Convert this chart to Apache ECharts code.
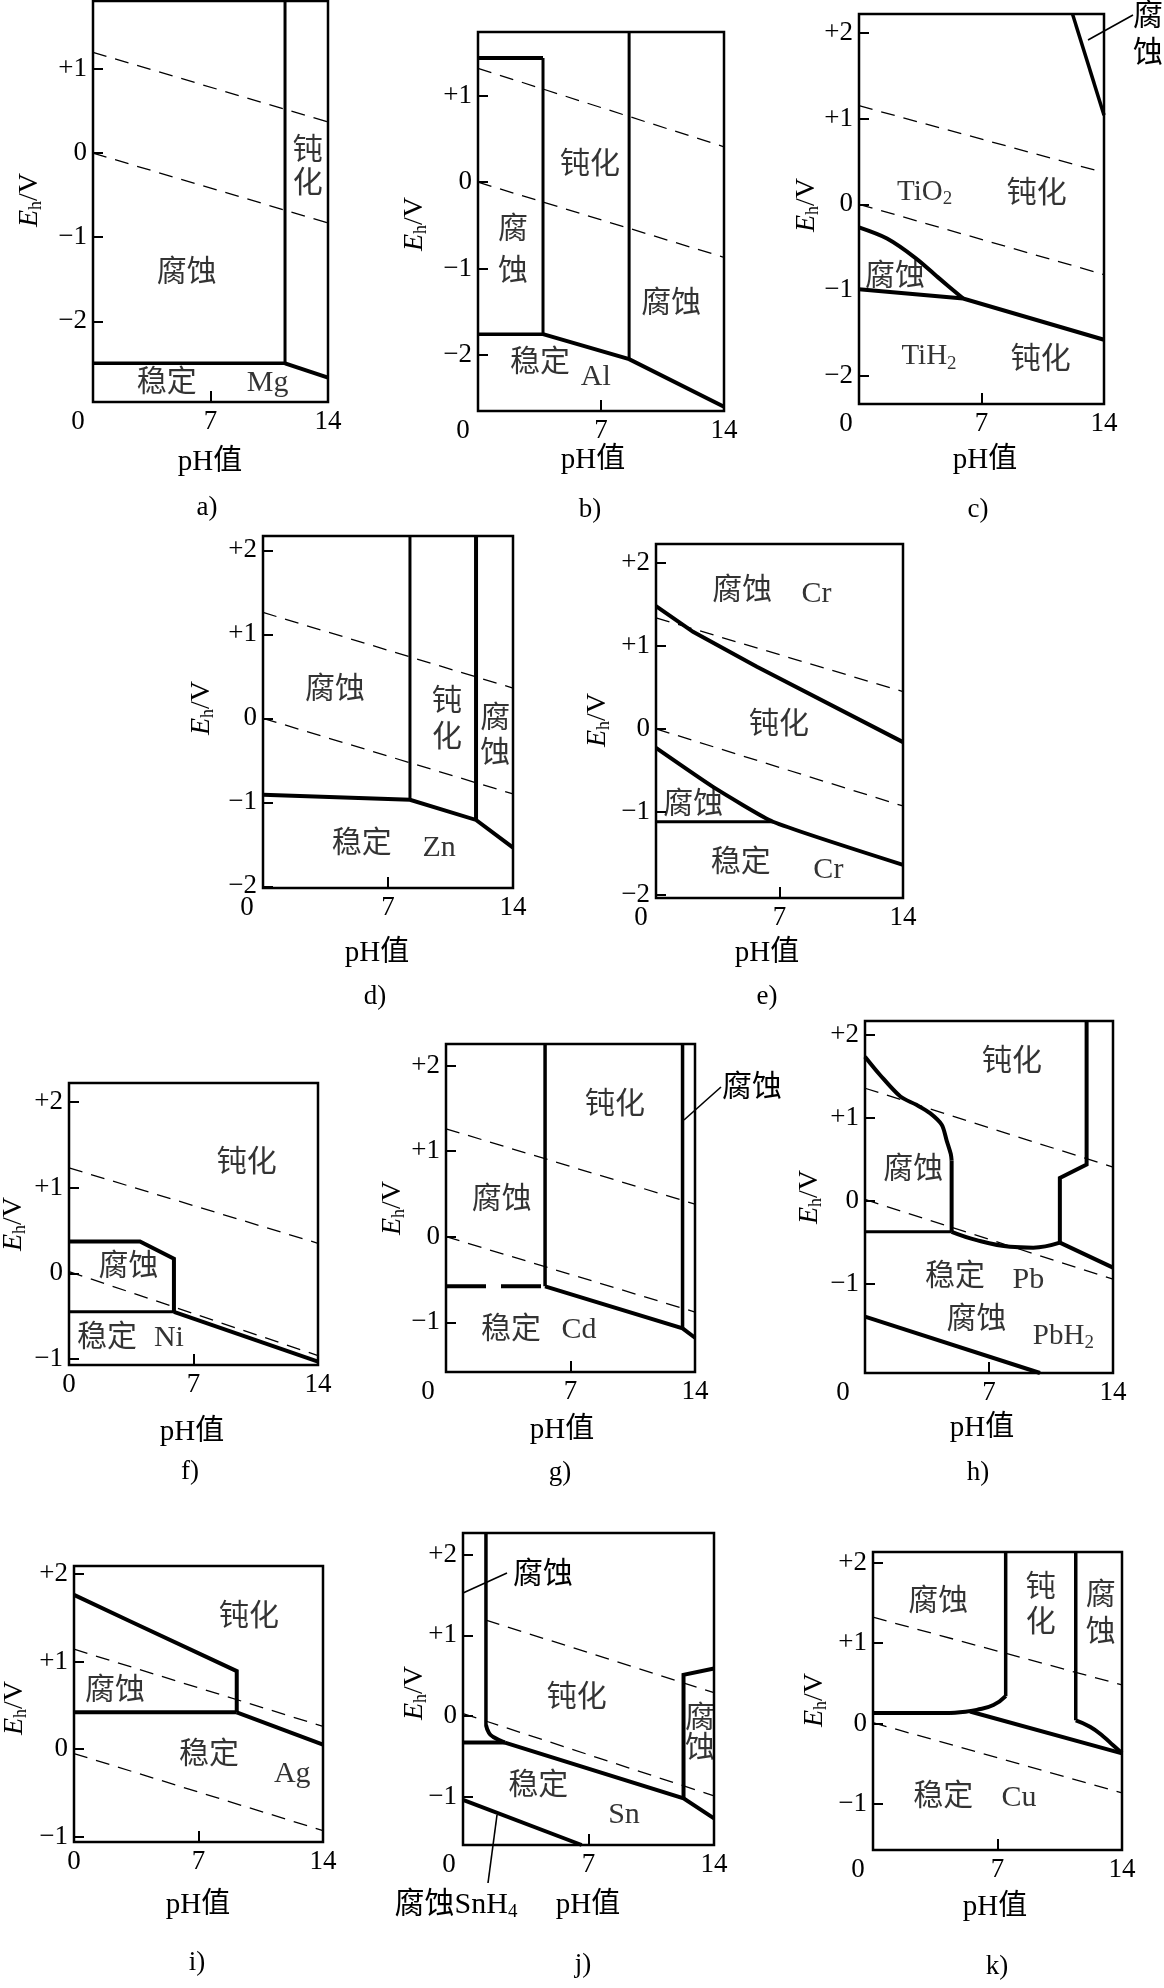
<!DOCTYPE html>
<html>
<head>
<meta charset="utf-8">
<script src="https://cdn.jsdelivr.net/npm/echarts@6/dist/echarts.min.js"></script>
<style>
  html, body { margin: 0; padding: 0; background: #fff; }
  #main { width: 1164px; height: 1988px; }
</style>
</head>
<body>
<div id="main"></div>
<script>
// pH 轴刻度
const phTicks = [0, 7, 14];

// 水的稳定线 (上: O2, 下: H2), 每个小图按图上读数
const aWater = [[[0, 1.20], [14, 0.37]], [[0, 0], [14, -0.83]]];
const bWater = [[[0, 1.32], [14, 0.41]], [[0, 0], [14, -0.87]]];
const cWater = [[[0, 1.15], [14, 0.37]], [[0, 0], [14, -0.82]]];
const dWater = [[[0, 1.26], [14, 0.36]], [[0, 0], [14, -0.90]]];
const eWater = [[[0, 1.34], [14, 0.45]], [[0, 0], [14, -0.93]]];
const fWater = [[[0, 1.23], [14, 0.35]], [[0, 0.02], [14, -0.96]]];
const gWater = [[[0, 1.26], [14, 0.38]], [[0, 0], [14, -0.88]]];
const hWater = [[[0, 1.36], [14, 0.41]], [[0, 0.02], [14, -0.94]]];
const iWater = [[[0, 1.14], [14, 0.26]], [[0, -0.05], [14, -0.93]]];
const jWater = [[[1.28, 1.19], [14, 0.29]], [[0, 0.03], [14, -0.99]]];
const kWater = [[[0, 1.32], [14, 0.48]], [[0, 0.01], [14, -0.86]]];

// a) Mg
const aPassiveEdge = [[11.44, 1.81], [11.44, -2.5]];
const aImmunityEdge = [[0, -2.5], [11.44, -2.5]];
const aAlkalineEdge = [[11.44, -2.5], [14, -2.67]];
const aNotes = [['钝\n化', 12.8, -0.17, 33], ['腐蚀', 5.58, -1.43], ['稳定', 4.39, -2.74], ['Mg', 10.4, -2.73]];

// b) Al
const bAcidCap = [[0, 1.44], [3.7, 1.44]];
const bAcidWall = [[3.7, 1.44], [3.7, -1.76]];
const bAcidFloor = [[0, -1.76], [3.7, -1.76]];
const bAlkWall = [[8.6, 1.74], [8.6, -2.05]];
const bMetalEdge = [[3.7, -1.76], [8.6, -2.05], [14, -2.6]];
const bNotes = [['钝化', 6.37, 0.2], ['腐\n蚀', 1.99, -0.8, 42], ['腐蚀', 11.0, -1.41], ['稳定', 3.53, -2.1], ['Al', 6.7, -2.26]];

// c) Ti
const cTopEdge = [[12.2, 2.22], [14, 1.04]];
const cPitEdge = [[0, -0.27], [1.6, -0.40], [3.25, -0.63], [4.5, -0.85], [5.95, -1.1]];
const cHydrideEdge = [[0, -0.99], [5.95, -1.1], [14, -1.58]];
const cNotes = [['{n|TiO}{s|2}', 3.75, 0.14], ['钝化', 10.15, 0.12], ['腐蚀', 2.06, -0.85], ['{n|TiH}{s|2}', 4.0, -1.78], ['钝化', 10.38, -1.82]];

// d) Zn
const dWall1 = [[8.23, 2.17], [8.23, -0.97]];
const dWall2 = [[11.93, 2.17], [11.93, -1.21]];
const dMetalEdge = [[0, -0.91], [8.23, -0.97], [11.93, -1.21], [14, -1.54]];
const dNotes = [['腐蚀', 4.03, 0.34], ['钝\n化', 10.3, -0.02, 36], ['腐\n蚀', 13.0, -0.22, 35], ['稳定', 5.53, -1.5], ['Zn', 9.86, -1.54]];

// e) Cr
const eTopEdge = [[0, 1.48], [2.1, 1.17], [5.72, 0.75], [14, -0.16]];
const eLowEdge = [[0, -0.23], [3.23, -0.70], [6.63, -1.12], [14, -1.64]];
const eFloor = [[0, -1.12], [6.63, -1.12]];
const eNotes = [['腐蚀', 4.89, 1.66], ['Cr', 9.1, 1.62], ['钝化', 6.97, 0.05], ['腐蚀', 2.11, -0.92], ['稳定', 4.8, -1.62], ['Cr', 9.77, -1.7]];

// f) Ni
const fPitEdge = [[0, 0.37], [3.99, 0.37], [5.9, 0.17], [5.9, -0.45]];
const fFloor = [[0, -0.45], [5.9, -0.45]];
const fMetalEdge = [[5.9, -0.45], [14, -1.03]];
const fNotes = [['钝化', 9.99, 1.28], ['腐蚀', 3.34, 0.07], ['稳定', 2.14, -0.76], ['Ni', 5.62, -0.76]];

// g) Cd
const gWall1 = [[5.57, 2.25], [5.57, -0.58]];
const gLedge = [[0, -0.58], [5.57, -0.58]];
const gMetalEdge = [[5.57, -0.58], [13.3, -1.07], [14, -1.18]];
const gWall2 = [[13.3, 2.25], [13.3, -1.07]];
const gNotes = [['钝化', 9.5, 1.54], ['腐蚀', 3.13, 0.43], ['稳定', 3.65, -1.09], ['Cd', 7.48, -1.09]];

// h) Pb
const hPitCurve = [[0, 1.74], [0.85, 1.52], [2.0, 1.26], [2.9, 1.16], [3.67, 1.06], [4.33, 0.92], [4.61, 0.73], [4.84, 0.57], [4.89, 0.49]];
const hPitWall = [[4.89, 0.49], [4.89, -0.37]];
const hLedge = [[0, -0.37], [4.89, -0.37]];
const hTrough = [[4.89, -0.37], [6.3, -0.47], [8.19, -0.55], [9.5, -0.56], [11.0, -0.50]];
const hStep = [[11.0, -0.50], [11.0, 0.28], [12.51, 0.44], [12.51, 2.17]];
const hAlkEdge = [[11.0, -0.50], [14, -0.80]];
const hHydrideEdge = [[0, -1.39], [9.88, -2.07]];
const hNotes = [['钝化', 8.3, 1.67], ['腐蚀', 2.73, 0.37], ['稳定', 5.08, -0.91], ['Pb', 9.22, -0.95], ['腐蚀', 6.3, -1.43], ['{n|PbH}{s|2}', 11.2, -1.63]];

// i) Ag
const iTopEdge = [[0, 1.76], [3.15, 1.46], [9.15, 0.89], [9.15, 0.42]];
const iLedge = [[0, 0.42], [9.15, 0.42]];
const iMetalEdge = [[9.15, 0.42], [14, 0.05]];
const iNotes = [['钝化', 9.84, 1.51], ['腐蚀', 2.3, 0.66], ['稳定', 7.59, -0.07], ['Ag', 12.27, -0.28]];

// j) Sn
const jWall = [[1.28, 2.27], [1.28, -0.11]];
const jElbow = [[1.28, -0.11], [1.45, -0.21], [1.69, -0.26], [2.34, -0.33]];
const jLedge = [[0, -0.33], [2.34, -0.33]];
const jMetalEdge = [[2.34, -0.33], [12.3, -1.02], [14, -1.27]];
const jStep = [[12.3, -1.02], [12.3, 0.51], [14, 0.59]];
const jHydrideEdge = [[0, -1.04], [6.62, -1.60]];
const jNotes = [['钝化', 6.34, 0.22], ['腐\n蚀', 13.22, -0.23, 30], ['稳定', 4.2, -0.87], ['Sn', 8.98, -1.23]];

// k) Cu
const kWall1 = [[7.46, 2.13], [7.46, 0.34]];
const kElbow1 = [[7.46, 0.34], [6.77, 0.23], [5.83, 0.17], [4.89, 0.14], [4.33, 0.13]];
const kLedge = [[0, 0.13], [4.33, 0.13]];
const kMetalEdge = [[5.45, 0.15], [14, -0.37]];
const kWall2 = [[11.4, 2.13], [11.4, 0.04]];
const kElbow2 = [[11.4, 0.04], [12.2, -0.04], [12.95, -0.16], [13.5, -0.27], [14, -0.37]];
const kNotes = [['腐蚀', 3.67, 1.51], ['钝\n化', 9.43, 1.46, 35], ['腐\n蚀', 12.8, 1.35, 37], ['稳定', 3.95, -0.91], ['Cu', 8.21, -0.92]];

const FONT = '"Liberation Serif", "Noto Sans CJK SC", serif';

// 布局: 像素框 [left, top, width, height], y 轴范围, 刻度
const panels = [
  { rect: [93, 1, 235, 401], y: [-2.96, 1.81], ticks: [-2, -1, 0, 1], zero: 15, water: aWater, notes: aNotes,
    lines: [[aPassiveEdge, 3], [aImmunityEdge, 3.5], [aAlkalineEdge, 4]],
    eh: [30, 200], ph: [210, 462], cap: [207, 508, 'a)'] },
  { rect: [478, 32, 246, 379], y: [-2.65, 1.74], ticks: [-2, -1, 0, 1], zero: 15, water: bWater, notes: bNotes,
    lines: [[bAcidCap, 4], [bAcidWall, 3], [bAcidFloor, 3.5], [bAlkWall, 3], [bMetalEdge, 4]],
    eh: [415, 224], ph: [593, 460], cap: [590, 510, 'b)'] },
  { rect: [859, 14, 245, 390], y: [-2.33, 2.22], ticks: [-2, -1, 0, 1, 2], zero: 13, water: cWater, notes: cNotes,
    lines: [[cTopEdge, 3.5], [cPitEdge, 4, { smooth: 0.3 }], [cHydrideEdge, 4]],
    eh: [807, 205], ph: [985, 460], cap: [978, 510, 'c)'] },
  { rect: [263, 536, 250, 352], y: [-2.02, 2.17], ticks: [-2, -1, 0, 1, 2], zero: 16, water: dWater, notes: dNotes,
    lines: [[dWall1, 3], [dWall2, 4], [dMetalEdge, 4]],
    eh: [202, 708], ph: [377, 953], cap: [375, 997, 'd)'] },
  { rect: [656, 544, 247, 354], y: [-2.04, 2.23], ticks: [-2, -1, 0, 1, 2], zero: 15, water: eWater, notes: eNotes,
    lines: [[eTopEdge, 4], [eLowEdge, 4, { smooth: 0.15 }], [eFloor, 3]],
    eh: [598, 720], ph: [767, 953], cap: [767, 997, 'e)'] },
  { rect: [69, 1083, 249, 282], y: [-1.07, 2.22], ticks: [-1, 0, 1, 2], zero: 0, water: fWater, notes: fNotes,
    lines: [[fPitEdge, 4], [fFloor, 3], [fMetalEdge, 4]],
    eh: [14, 1224], ph: [192, 1432], cap: [190, 1472, 'f)'] },
  { rect: [446, 1044, 249, 328], y: [-1.58, 2.25], ticks: [-1, 0, 1, 2], zero: 18, water: gWater, notes: gNotes,
    lines: [[gWall1, 3.5], [gLedge, 4, { dash: [40, 15] }], [gMetalEdge, 4], [gWall2, 3.5]],
    eh: [393, 1208], ph: [562, 1430], cap: [560, 1473, 'g)'] },
  { rect: [865, 1021, 248, 352], y: [-2.07, 2.17], ticks: [-1, 0, 1, 2], zero: 22, water: hWater, notes: hNotes,
    lines: [[hPitCurve, 4, { smooth: 0.3 }], [hPitWall, 4], [hLedge, 3], [hTrough, 4, { smooth: 0.4 }],
            [hStep, 4], [hAlkEdge, 4], [hHydrideEdge, 4]],
    eh: [810, 1197], ph: [982, 1428], cap: [978, 1473, 'h)'] },
  { rect: [74, 1566, 249, 276], y: [-1.06, 2.09], ticks: [-1, 0, 1, 2], zero: 0, water: iWater, notes: iNotes,
    lines: [[iTopEdge, 4], [iLedge, 4], [iMetalEdge, 4]],
    eh: [15, 1708], ph: [198, 1905], cap: [197, 1963, 'i)'] },
  { rect: [463, 1533, 251, 312], y: [-1.60, 2.27], ticks: [-1, 0, 1, 2], zero: 14, water: jWater, notes: jNotes,
    lines: [[jWall, 3.5], [jElbow, 4, { smooth: 0.5 }], [jLedge, 4], [jMetalEdge, 4], [jStep, 4], [jHydrideEdge, 4]],
    eh: [415, 1693], ph: [588, 1905], cap: [583, 1965, 'j)'] },
  { rect: [873, 1552, 249, 298], y: [-1.57, 2.13], ticks: [-1, 0, 1, 2], zero: 15, water: kWater, notes: kNotes,
    lines: [[kWall1, 3.5], [kElbow1, 4, { smooth: 0.5 }], [kLedge, 4], [kMetalEdge, 4], [kWall2, 3.5], [kElbow2, 4, { smooth: 0.5 }]],
    eh: [815, 1700], ph: [995, 1907], cap: [997, 1967, 'k)'] }
];

// 引出线注释 (像素)
const leaders = [
  { line: [1088, 40, 1133, 15], text: '腐\n蚀', at: [1148, 36] },
  { line: [684, 1120, 721, 1087], text: '腐蚀', at: [752, 1088] },
  { line: [463, 1593, 507, 1573], text: '腐蚀', at: [543, 1575] },
  { line: [497, 1815, 488, 1883], text: '腐蚀SnH{s|4}', at: [456, 1905] }
];

function fmtE(v) {
  if (v > 0) return '+' + v;
  if (v < 0) return '\u2212' + Math.abs(v);
  return '0';
}

const subRich = {
  n: { fontSize: 29, fontFamily: FONT, color: '#000' },
  s: { fontSize: 19, fontFamily: FONT, color: '#000', padding: [14, 0, 0, 0] }
};

const grid = [], xAxis = [], yAxis = [], series = [], graphic = [];

panels.forEach(function (p, i) {
  grid.push({
    left: p.rect[0], top: p.rect[1], width: p.rect[2], height: p.rect[3],
    show: true, borderColor: '#000', borderWidth: 2.5, backgroundColor: 'transparent',
    containLabel: false, outerBoundsMode: 'none'
  });
  xAxis.push({
    gridIndex: i, type: 'value', min: 0, max: 14, position: 'bottom',
    axisLine: { show: false, onZero: false },
    splitLine: { show: false },
    axisTick: { show: true, inside: true, length: 11, customValues: [7], lineStyle: { color: '#000', width: 2 } },
    axisLabel: {
      show: true, customValues: phTicks, margin: 6, color: '#000', fontSize: 27, fontFamily: FONT,
      formatter: function (v) { return v === 0 ? '{z|0}' : String(v); },
      rich: { z: { fontSize: 27, fontFamily: FONT, color: '#000', padding: [0, p.zero * 2, 0, 0] } }
    }
  });
  yAxis.push({
    gridIndex: i, type: 'value', min: p.y[0], max: p.y[1], position: 'left',
    axisLine: { show: false, onZero: false },
    splitLine: { show: false },
    axisTick: { show: true, inside: true, length: 10, customValues: p.ticks, lineStyle: { color: '#000', width: 2 } },
    axisLabel: { show: true, customValues: p.ticks, margin: 6, color: '#000', fontSize: 27, fontFamily: FONT, formatter: fmtE }
  });

  p.water.forEach(function (seg) {
    series.push({
      type: 'line', xAxisIndex: i, yAxisIndex: i, data: seg, symbol: 'none', silent: true,
      lineStyle: { color: '#000', width: 1.3, type: [14, 9] }
    });
  });

  p.lines.forEach(function (ln) {
    const opt = ln[2] || {};
    series.push({
      type: 'line', xAxisIndex: i, yAxisIndex: i, data: ln[0], symbol: 'none', silent: true,
      smooth: opt.smooth || false,
      lineStyle: { color: '#000', width: ln[1], type: opt.dash || 'solid', cap: 'butt', join: 'miter' }
    });
  });

  series.push({
    type: 'scatter', xAxisIndex: i, yAxisIndex: i, silent: true, symbolSize: 1,
    itemStyle: { color: 'rgba(0,0,0,0)' },
    data: p.notes.map(function (n) {
      return { value: [n[1], n[2]], name: n[0], label: { lineHeight: n[3] || 32 } };
    }),
    label: {
      show: true, position: 'inside', color: '#000', fontSize: 30, fontFamily: FONT,
      formatter: function (d) { return d.name; },
      rich: subRich
    }
  });

  graphic.push({
    type: 'text', x: p.eh[0], y: p.eh[1], rotation: Math.PI / 2, silent: true,
    style: {
      text: '{i|E}{s|h}{n|/V}', x: 0, y: 0, align: 'center', verticalAlign: 'middle',
      textAlign: 'center', textVerticalAlign: 'middle', fill: '#000',
      fontSize: 28, fontFamily: FONT,
      rich: {
        i: { fontSize: 28, fontFamily: FONT, fontStyle: 'italic', fill: '#000' },
        s: { fontSize: 18, fontFamily: FONT, fill: '#000', padding: [13, 0, 0, 0] },
        n: { fontSize: 28, fontFamily: FONT, fill: '#000' }
      }
    }
  });
  graphic.push({
    type: 'text', x: p.ph[0], y: p.ph[1], silent: true,
    style: { text: 'pH值', x: 0, y: 0, align: 'center', verticalAlign: 'middle', textAlign: 'center', textVerticalAlign: 'middle',
      fill: '#000', fontSize: 29, fontFamily: FONT }
  });
  graphic.push({
    type: 'text', x: p.cap[0], y: p.cap[1], silent: true,
    style: { text: p.cap[2], x: 0, y: 0, align: 'center', verticalAlign: 'middle', textAlign: 'center', textVerticalAlign: 'middle',
      fill: '#000', fontSize: 27, fontFamily: FONT }
  });
});

leaders.forEach(function (l) {
  graphic.push({
    type: 'line', silent: true,
    shape: { x1: l.line[0], y1: l.line[1], x2: l.line[2], y2: l.line[3] },
    style: { stroke: '#000', lineWidth: 1.6 }
  });
  graphic.push({
    type: 'text', x: l.at[0], y: l.at[1], silent: true,
    style: {
      text: l.text, x: 0, y: 0, align: 'center', verticalAlign: 'middle', textAlign: 'center', textVerticalAlign: 'middle',
      fill: '#000', fontSize: 30, fontFamily: FONT, lineHeight: 37,
      rich: { s: { fontSize: 19, fontFamily: FONT, fill: '#000', padding: [14, 0, 0, 0] } }
    }
  });
});

const chart = echarts.init(document.getElementById('main'), null, { renderer: 'canvas' });
chart.setOption({
  backgroundColor: '#fff',
  animation: false,
  grid: grid,
  xAxis: xAxis,
  yAxis: yAxis,
  series: series,
  graphic: graphic
});
</script>
</body>
</html>
